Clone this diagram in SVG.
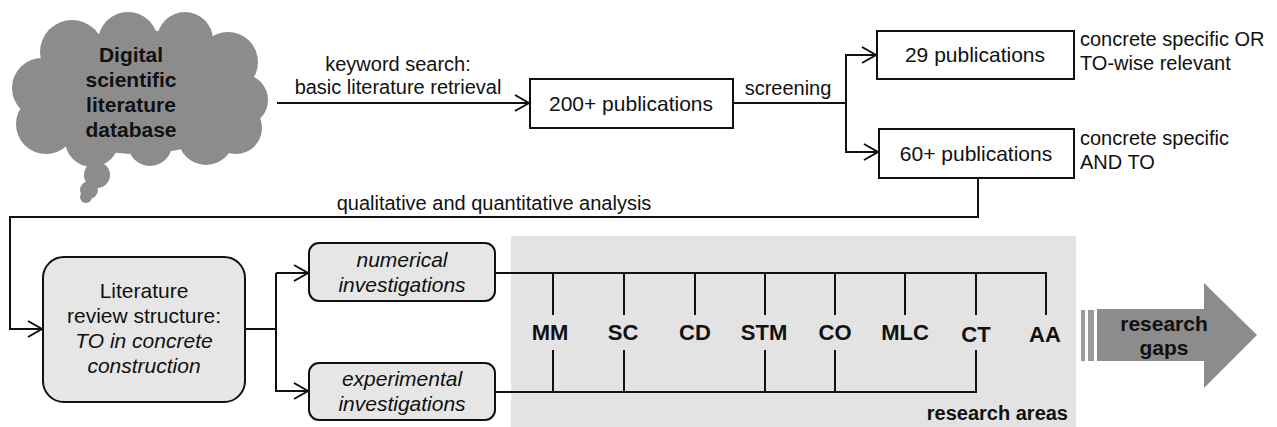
<svg xmlns="http://www.w3.org/2000/svg" width="1277" height="427" viewBox="0 0 1277 427">
<style>
text{font-family:"Liberation Sans",Arial,sans-serif;fill:#111}
.t{font-size:21px;text-anchor:middle}
.s{font-size:20px}
.m{text-anchor:middle}
.b{font-weight:bold}
.i{font-style:italic}
.lab{font-size:22px;font-weight:bold;text-anchor:middle}
.box{fill:#fff;stroke:#111;stroke-width:2}
.rbox{fill:#e6e6e6;stroke:#111;stroke-width:2}
.ln{fill:none;stroke:#111;stroke-width:2}
.cl{fill:#8c8c8c}
</style>
<defs>
<marker id="ah" markerUnits="userSpaceOnUse" markerWidth="18" markerHeight="20" refX="15" refY="9" orient="auto">
<path d="M1,1 L15,9 L1,17" fill="none" stroke="#111" stroke-width="2"/>
</marker>
</defs>
<rect x="511" y="236" width="565" height="191" fill="#e3e3e3"/>
<g id="cloud">
<g class="cl">
<ellipse cx="138" cy="92" rx="112" ry="62"/>
<circle cx="72" cy="52" r="32"/>
<circle cx="128" cy="42" r="30"/>
<circle cx="185" cy="40" r="28"/>
<circle cx="228" cy="62" r="30"/>
<circle cx="42" cy="88" r="30"/>
<circle cx="46" cy="124" r="30"/>
<circle cx="92" cy="140" r="27"/>
<circle cx="150" cy="144" r="22"/>
<circle cx="206" cy="137" r="28"/>
<circle cx="242" cy="100" r="26"/>
<circle cx="236" cy="128" r="26"/>
<circle cx="97" cy="175" r="13"/>
<circle cx="89" cy="190" r="9"/>
<circle cx="86" cy="197" r="6"/>
</g>
<text class="b m" x="131" y="62" style="font-size:21px">Digital</text>
<text class="b m" x="131" y="87" style="font-size:21px">scientific</text>
<text class="b m" x="131" y="112" style="font-size:21px">literature</text>
<text class="b m" x="131" y="137" style="font-size:21px">database</text>
</g>
<g id="n200">
<rect class="box" x="530" y="79" width="203" height="49"/>
<text class="t" x="631" y="111">200+ publications</text>
</g>
<g id="n29">
<rect class="box" x="877" y="31" width="197" height="48"/>
<text class="t" x="975" y="62">29 publications</text>
<text class="s" x="1080" y="46">concrete specific OR</text>
<text class="s" x="1080" y="70">TO-wise relevant</text>
</g>
<g id="n60">
<rect class="box" x="879" y="129" width="195" height="49"/>
<text class="t" x="976" y="161">60+ publications</text>
<text class="s" x="1080" y="145">concrete specific</text>
<text class="s" x="1080" y="169">AND TO</text>
</g>
<g id="lit">
<rect class="rbox" x="43" y="257" width="202" height="145" rx="21"/>
<text class="t" x="144" y="298">Literature</text>
<text class="t" x="144" y="323">review structure:</text>
<text class="t i" x="144" y="348">TO in concrete</text>
<text class="t i" x="144" y="373">construction</text>
</g>
<g id="num">
<rect class="rbox" x="309" y="243" width="186" height="58" rx="10"/>
<text class="t i" x="402" y="267">numerical</text>
<text class="t i" x="402" y="292">investigations</text>
</g>
<g id="exp">
<rect class="rbox" x="309" y="363" width="186" height="57" rx="10"/>
<text class="t i" x="402" y="386">experimental</text>
<text class="t i" x="402" y="411">investigations</text>
</g>
<g id="areas">
<text class="lab" x="550" y="340">MM</text>
<text class="lab" x="623" y="340">SC</text>
<text class="lab" x="695" y="340">CD</text>
<text class="lab" x="764" y="340">STM</text>
<text class="lab" x="835" y="340">CO</text>
<text class="lab" x="905" y="340">MLC</text>
<text class="lab" x="976" y="342">CT</text>
<text class="lab" x="1045" y="342">AA</text>
<text class="b" x="1068" y="420" style="font-size:20px;text-anchor:end">research areas</text>
</g>
<g id="gaps">
<rect x="1081" y="310" width="4" height="51" fill="#9a9a9a"/>
<rect x="1088" y="310" width="6" height="51" fill="#9a9a9a"/>
<path d="M1097,309 H1204 V283 L1257,335 L1204,388 V361 H1097 Z" fill="#8c8c8c"/>
<text class="b m" x="1164" y="331" style="font-size:21px">research</text>
<text class="b m" x="1164" y="355" style="font-size:21px">gaps</text>
</g>
<g id="connectors">
<path class="ln" d="M277,103 H529" marker-end="url(#ah)"/>
<text class="s m" x="398" y="71">keyword search:</text>
<text class="s m" x="398" y="94">basic literature retrieval</text>
<path class="ln" d="M733,103 H846"/>
<text class="s m" x="788" y="95">screening</text>
<path class="ln" d="M846,55 V152 H878" marker-end="url(#ah)"/>
<path class="ln" d="M845,55 H876" marker-end="url(#ah)"/>
<path class="ln" d="M978,178 V217 H10 V329 H42" marker-end="url(#ah)"/>
<text class="s m" x="494" y="210">qualitative and quantitative analysis</text>
<path class="ln" d="M245,329 H276"/>
<path class="ln" d="M276,273 V391 H308" marker-end="url(#ah)"/>
<path class="ln" d="M276,273 H308" marker-end="url(#ah)"/>
<path class="ln" d="M495,273 H1046 V315 M553,273 V315 M624,273 V315 M695,273 V315 M765,273 V315 M835,273 V315 M905,273 V315 M976,273 V315"/>
<path class="ln" d="M495,392 H976 V350 M553,392 V350 M624,392 V350 M765,392 V350 M835,392 V350"/>
</g>
</svg>
